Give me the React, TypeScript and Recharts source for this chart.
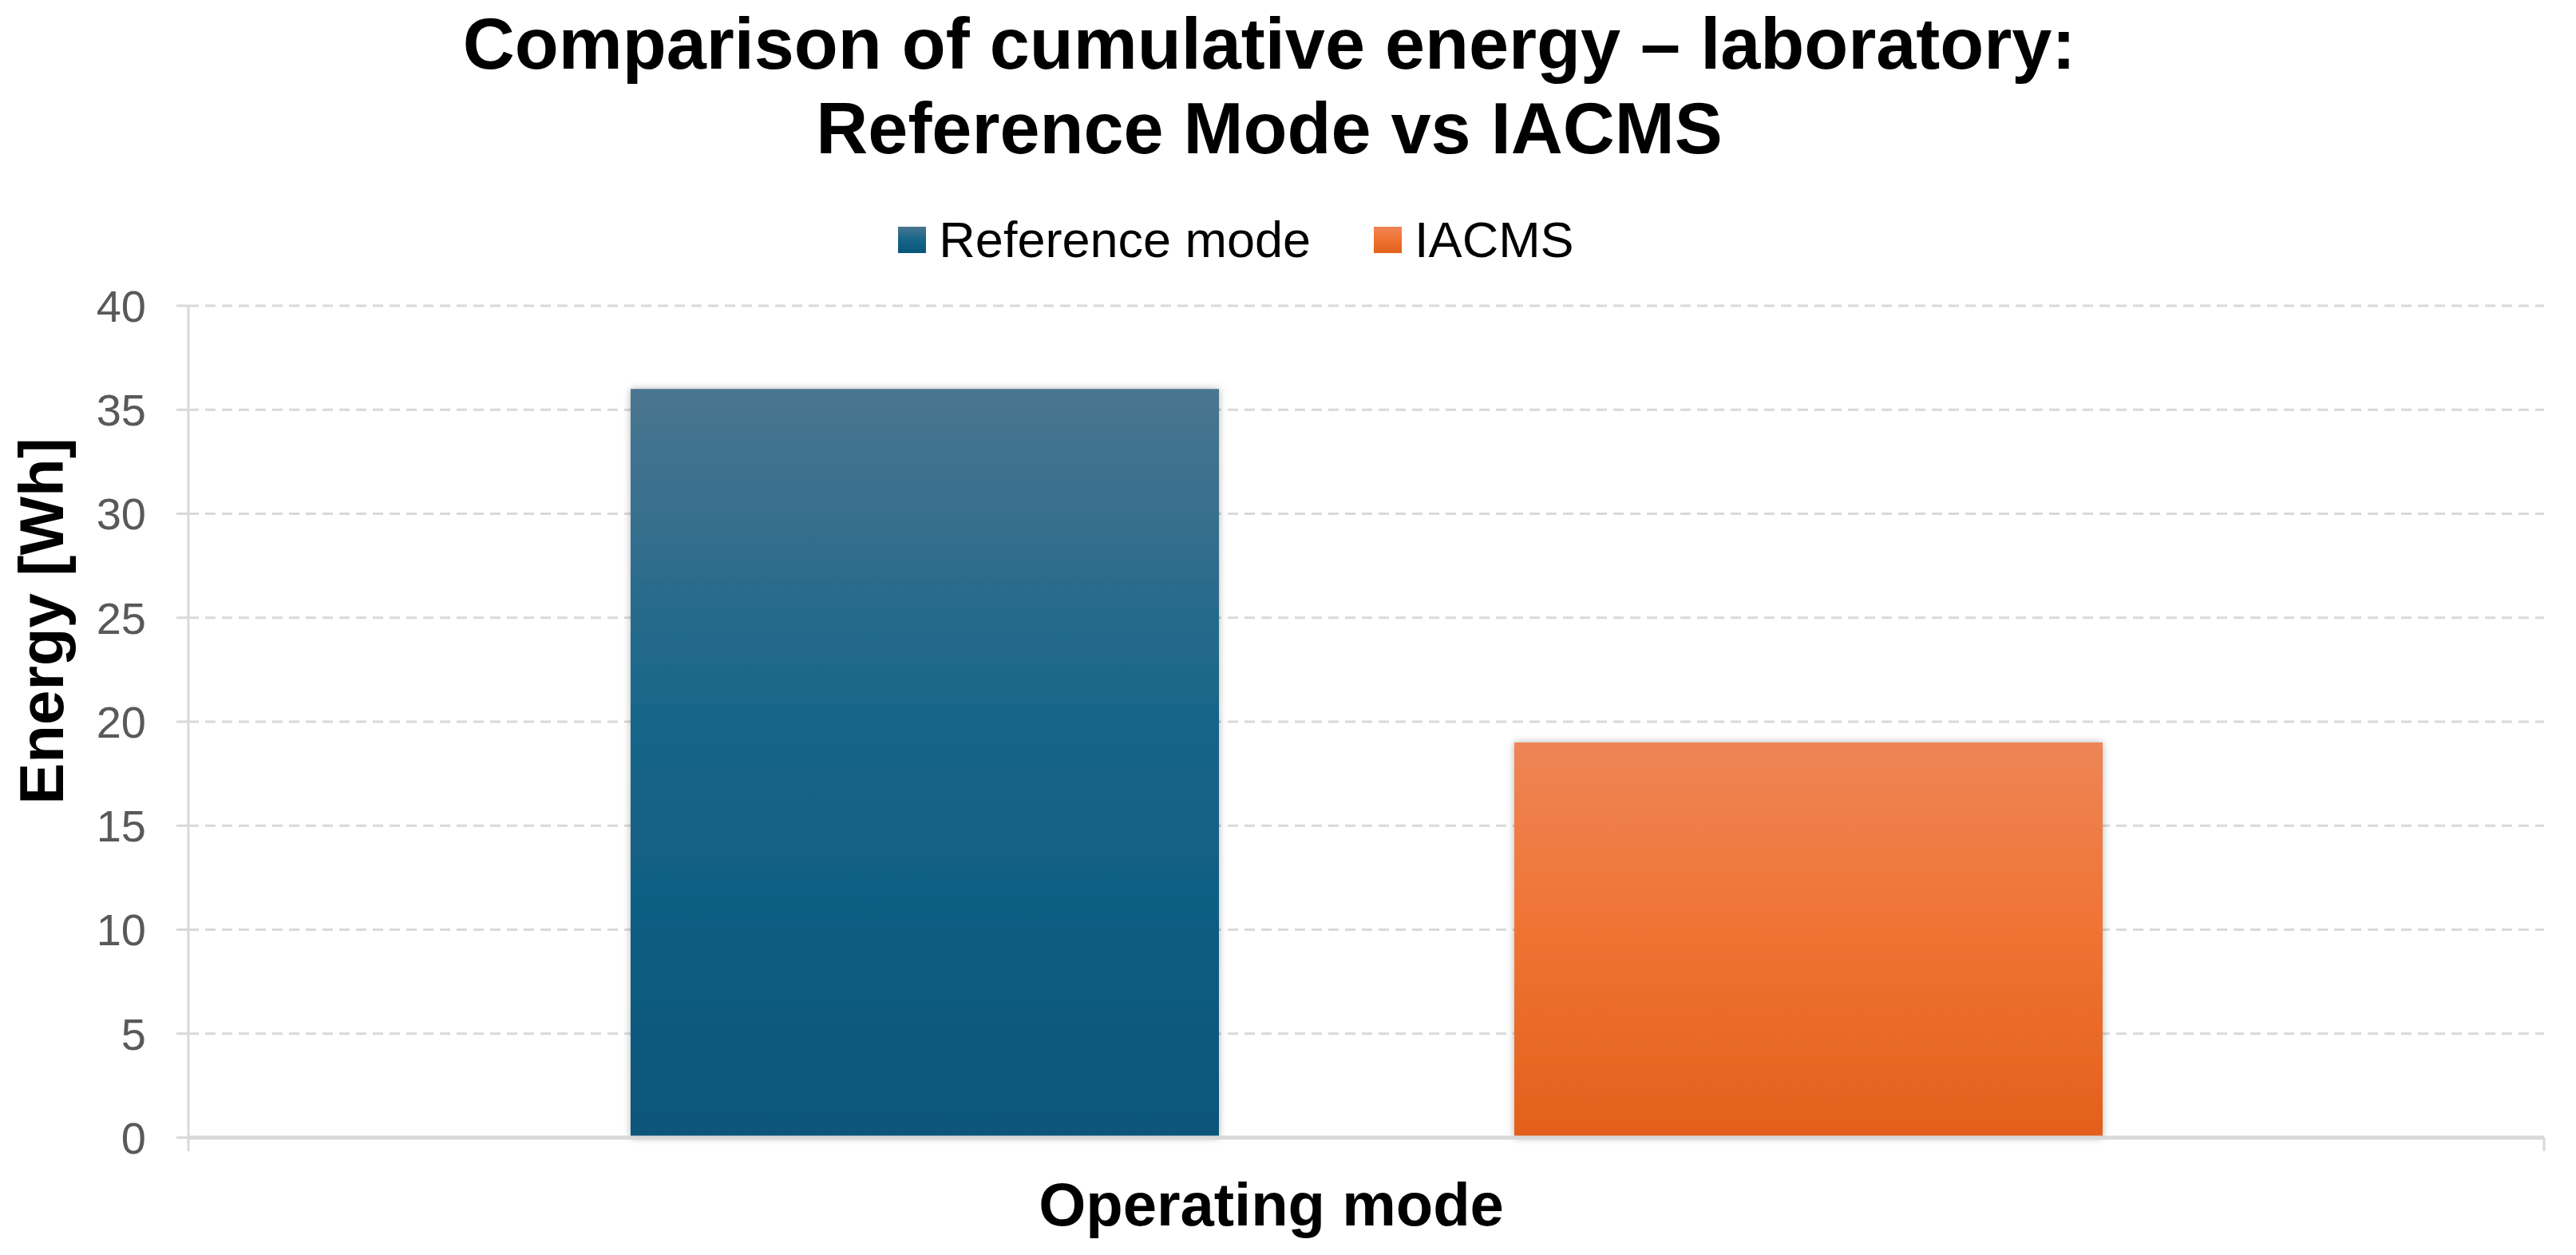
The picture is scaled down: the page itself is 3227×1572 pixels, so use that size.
import React from 'react';
import {
  BarChart,
  Bar,
  XAxis,
  YAxis,
  CartesianGrid,
  Legend,
} from 'recharts';

const TITLE_LINES = ['Comparison of cumulative energy – laboratory:', 'Reference Mode vs IACMS'];
const CATEGORIES = ['Operating mode'];
const REFERENCE_VALUES = [36.0];
const IACMS_VALUES = [19.0];
const SERIES_NAMES = ['Reference mode', 'IACMS'];
const Y_TICKS = [0, 5, 10, 15, 20, 25, 30, 35, 40];
const Y_LABEL = 'Energy [Wh]';
const X_LABEL = 'Operating mode';

const data = CATEGORIES.map((c, i) => ({
  mode: c,
  reference: REFERENCE_VALUES[i],
  iacms: IACMS_VALUES[i],
}));

const FONT = '"Liberation Sans", Arial, Helvetica, sans-serif';
const W = 3227;
const H = 1572;
const AXIS_COLOR = '#d9d9d9';

const legendItems = [
  { name: SERIES_NAMES[0], bg: 'linear-gradient(#4a7590, #166589 50%, #09557a)' },
  { name: SERIES_NAMES[1], bg: 'linear-gradient(#ee8556, #f07232 50%, #e2601b)' },
];

const LegendContent = () => (
  <div
    style={{
      display: 'flex',
      justifyContent: 'center',
      alignItems: 'center',
      height: 80,
      width: '100%',
      fontFamily: FONT,
      fontSize: 63,
      lineHeight: '80px',
      color: '#000',
    }}
  >
    {legendItems.map((it, i) => (
      <div
        key={it.name}
        style={{ display: 'flex', alignItems: 'center', marginLeft: i === 0 ? 0 : 79 }}
      >
        <div style={{ width: 35, height: 33, background: it.bg, marginRight: 16 }} />
        <span>{it.name}</span>
      </div>
    ))}
  </div>
);

const YLabel = (props: any) => {
  const vb = props.viewBox || { x: 0, y: 383, width: 236, height: 1042 };
  const x = vb.x + 79;
  const y = vb.y + vb.height / 2 - 126;
  return (
    <text
      x={x}
      y={y}
      transform={`rotate(-90, ${x}, ${y})`}
      textAnchor="middle"
      fontFamily={FONT}
      fontWeight="bold"
      fontSize={78}
      fill="#000"
    >
      {Y_LABEL}
    </text>
  );
};

// Axis label plus the category-boundary tick marks at both ends of the x axis
const XLabel = (props: any) => {
  const vb = props.viewBox || { x: 236, y: 1425, width: 2951, height: 147 };
  const x = W / 2 - 21;
  const y = vb.y + 110;
  return (
    <g>
      <line x1={vb.x} y1={vb.y} x2={vb.x} y2={vb.y + 17} stroke={AXIS_COLOR} strokeWidth={3} />
      <line
        x1={vb.x + vb.width}
        y1={vb.y}
        x2={vb.x + vb.width}
        y2={vb.y + 17}
        stroke={AXIS_COLOR}
        strokeWidth={3}
      />
      <text x={x} y={y} textAnchor="middle" fontFamily={FONT} fontWeight="bold" fontSize={76} fill="#000">
        {X_LABEL}
      </text>
    </g>
  );
};

export default function App() {
  return (
    <div style={{ position: 'absolute', left: 0, top: 0, width: W, height: H, background: '#fff' }}>
      <div
        style={{
          position: 'absolute',
          left: 0,
          top: 2,
          width: 3180,
          textAlign: 'center',
          fontFamily: FONT,
          fontWeight: 'bold',
          fontSize: 90,
          lineHeight: '106px',
          color: '#000',
          zIndex: 2,
        }}
      >
        {TITLE_LINES.map((l) => (
          <div key={l}>{l}</div>
        ))}
      </div>
      <BarChart
        width={W}
        height={H}
        data={data}
        margin={{ top: 303, right: 40, bottom: 0, left: 0 }}
        barSize={737}
        barGap={370}
      >
        <defs>
          <linearGradient id="gradRef" x1="0" y1="0" x2="0" y2="1">
            <stop offset="0%" stopColor="#4a7590" />
            <stop offset="45%" stopColor="#166589" />
            <stop offset="100%" stopColor="#09557a" />
          </linearGradient>
          <linearGradient id="gradIacms" x1="0" y1="0" x2="0" y2="1">
            <stop offset="0%" stopColor="#ee8556" />
            <stop offset="50%" stopColor="#f07232" />
            <stop offset="100%" stopColor="#e2601b" />
          </linearGradient>
          <filter id="barShadow" x="-5%" y="-5%" width="110%" height="110%">
            <feDropShadow dx="0" dy="0" stdDeviation="5" floodColor="#000" floodOpacity="0.3" />
          </filter>
        </defs>
        <Legend
          verticalAlign="top"
          align="center"
          content={LegendContent}
          wrapperStyle={{ top: 260, left: 0, width: 3097, height: 80 }}
        />
        <CartesianGrid vertical={false} stroke={AXIS_COLOR} strokeWidth={3} strokeDasharray="13 8" />
        <XAxis
          dataKey="mode"
          type="category"
          height={147}
          axisLine={{ stroke: AXIS_COLOR, strokeWidth: 5 }}
          tickLine={false}
          tick={false}
          label={<XLabel />}
        />
        <YAxis
          width={236}
          domain={[0, 40]}
          ticks={Y_TICKS}
          interval={0}
          axisLine={{ stroke: AXIS_COLOR, strokeWidth: 3 }}
          tickLine={{ stroke: AXIS_COLOR, strokeWidth: 3 }}
          tickSize={15}
          tickMargin={38}
          tick={{ fill: '#595959', fontSize: 56, fontFamily: FONT }}
          label={<YLabel />}
        />
        <Bar
          dataKey="reference"
          name={SERIES_NAMES[0]}
          fill="url(#gradRef)"
          filter="url(#barShadow)"
          isAnimationActive={false}
        />
        <Bar
          dataKey="iacms"
          name={SERIES_NAMES[1]}
          fill="url(#gradIacms)"
          filter="url(#barShadow)"
          isAnimationActive={false}
        />
      </BarChart>
    </div>
  );
}
